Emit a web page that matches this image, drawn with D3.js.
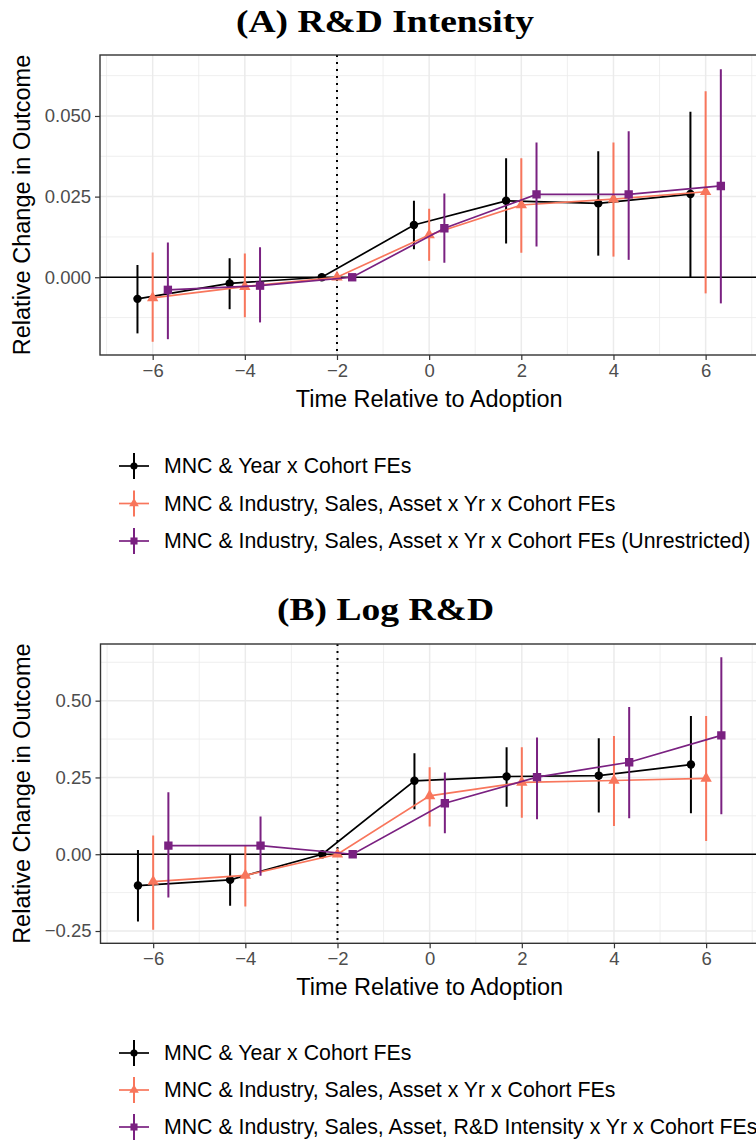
<!DOCTYPE html>
<html><head><meta charset="utf-8">
<script src="https://cdn.jsdelivr.net/npm/d3@7"></script>
<style>body{margin:0;background:#fff}</style>
</head><body><svg id="c" width="756" height="1143" xmlns="http://www.w3.org/2000/svg"></svg>
<script>
// ---------- data ----------
const periods = [-6, -4, -2, 0, 2, 4, 6];
const xTicks = [-6, -4, -2, 0, 2, 4, 6];
const xTickLabels = ["\u22126", "\u22124", "\u22122", "0", "2", "4", "6"];
const seriesColors = ["#000000", "#F8765C", "#7A2181"];
const seriesShapes = ["circle", "triangle", "square"];
const seriesDodge = [-0.33, 0, 0.33];

const titleA = "(A) R&D Intensity";
const legendA = ["MNC & Year x Cohort FEs",
  "MNC & Industry, Sales, Asset x Yr x Cohort FEs",
  "MNC & Industry, Sales, Asset x Yr x Cohort FEs (Unrestricted)"];
const yTicksA = [0, 0.025, 0.05];
const yTickLabelsA = ["0.000", "0.025", "0.050"];

const A_black_est = [-0.0067, -0.0019, 0, 0.0162, 0.0237, 0.0229, 0.0258];
const A_black_lo  = [-0.0174, -0.0099, 0, 0.0087, 0.0105, 0.0067, 0.0000];
const A_black_hi  = [0.0038, 0.0059, 0, 0.0237, 0.0369, 0.0391, 0.0513];
const A_orange_est = [-0.0064, -0.0029, 0, 0.0131, 0.0224, 0.0242, 0.0265];
const A_orange_lo  = [-0.0200, -0.0124, 0, 0.0051, 0.0076, 0.0064, -0.0050];
const A_orange_hi  = [0.0077, 0.0074, 0, 0.0212, 0.0369, 0.0418, 0.0577];
const A_purple_est = [-0.0039, -0.0026, 0, 0.0152, 0.0257, 0.0257, 0.0283];
const A_purple_lo  = [-0.0192, -0.0140, 0, 0.0045, 0.0095, 0.0054, -0.0081];
const A_purple_hi  = [0.0108, 0.0093, 0, 0.0260, 0.0418, 0.0453, 0.0645];

const titleB = "(B) Log R&D";
const legendB = ["MNC & Year x Cohort FEs",
  "MNC & Industry, Sales, Asset x Yr x Cohort FEs",
  "MNC & Industry, Sales, Asset, R&D Intensity x Yr x Cohort FEs"];
const yTicksB = [-0.25, 0, 0.25, 0.5];
const yTickLabelsB = ["\u22120.25", "0.00", "0.25", "0.50"];

const B_black_est = [-0.102, -0.0835, 0, 0.239, 0.253, 0.256, 0.292];
const B_black_lo  = [-0.219, -0.168, 0, 0.1465, 0.155, 0.1356, 0.1335];
const B_black_hi  = [0.014, -0.002, 0, 0.329, 0.348, 0.378, 0.450];
const B_orange_est = [-0.089, -0.069, 0, 0.190, 0.234, 0.240, 0.247];
const B_orange_lo  = [-0.246, -0.170, 0, 0.090, 0.119, 0.092, 0.043];
const B_orange_hi  = [0.061, 0.027, 0, 0.283, 0.348, 0.385, 0.450];
const B_purple_est = [0.028, 0.028, 0, 0.166, 0.251, 0.2995, 0.387];
const B_purple_lo  = [-0.141, -0.070, 0, 0.068, 0.114, 0.117, 0.130];
const B_purple_hi  = [0.202, 0.123, 0, 0.266, 0.380, 0.479, 0.641];

// ---------- drawing ----------
const svg = d3.select("#c");
const SANS = "'Liberation Sans', Arial, Helvetica, sans-serif";
const SERIF = "'Liberation Serif', 'Times New Roman', serif";

function symType(i) {
  return seriesShapes[i] === "circle" ? d3.symbolCircle :
    seriesShapes[i] === "triangle" ? d3.symbolTriangle : d3.symbolSquare;
}

function drawPanel(cfg) {
  const g = svg.append("g");
  const x = d3.scaleLinear().domain([-7.143, 7.143]).range([cfg.left, cfg.right]);
  const y = d3.scaleLinear().domain(cfg.yDomain).range([cfg.bottom, cfg.top]);

  // title
  g.append("text").attr("x", cfg.titleX).attr("y", cfg.titleY)
    .attr("text-anchor", "middle").attr("font-family", SERIF)
    .attr("font-size", 32).attr("font-weight", "bold").attr("fill", "#000")
    .attr("textLength", cfg.titleLen).attr("lengthAdjust", "spacingAndGlyphs")
    .text(cfg.title);

  // clip
  const clipId = "clip" + cfg.id;
  g.append("clipPath").attr("id", clipId).append("rect")
    .attr("x", cfg.left).attr("y", cfg.top)
    .attr("width", cfg.right - cfg.left).attr("height", cfg.bottom - cfg.top);
  const p = g.append("g").attr("clip-path", `url(#${clipId})`);

  // grid
  const xMinor = [-7, -5, -3, -1, 1, 3, 5, 7];
  const yt = cfg.yTicks;
  const step = yt[1] - yt[0];
  const yMinor = [];
  for (let v = yt[0] - step / 2; v <= cfg.yDomain[1]; v += step) if (v >= cfg.yDomain[0]) yMinor.push(v);
  p.selectAll(".xmin").data(xMinor).join("line")
    .attr("x1", d => x(d)).attr("x2", d => x(d)).attr("y1", cfg.top).attr("y2", cfg.bottom)
    .attr("stroke", "#ebebeb").attr("stroke-width", 0.8);
  p.selectAll(".ymin").data(yMinor).join("line")
    .attr("y1", d => y(d)).attr("y2", d => y(d)).attr("x1", cfg.left).attr("x2", cfg.right)
    .attr("stroke", "#ebebeb").attr("stroke-width", 0.8);
  p.selectAll(".xmaj").data(xTicks).join("line")
    .attr("x1", d => x(d)).attr("x2", d => x(d)).attr("y1", cfg.top).attr("y2", cfg.bottom)
    .attr("stroke", "#ebebeb").attr("stroke-width", 1.5);
  p.selectAll(".ymaj").data(yt).join("line")
    .attr("y1", d => y(d)).attr("y2", d => y(d)).attr("x1", cfg.left).attr("x2", cfg.right)
    .attr("stroke", "#ebebeb").attr("stroke-width", 1.5);

  // reference lines
  p.append("line").attr("x1", cfg.left).attr("x2", cfg.right)
    .attr("y1", y(0)).attr("y2", y(0)).attr("stroke", "#000").attr("stroke-width", 1.6);
  p.append("line").attr("x1", x(-2)).attr("x2", x(-2))
    .attr("y1", cfg.top).attr("y2", cfg.bottom).attr("stroke", "#000")
    .attr("stroke-width", 2).attr("stroke-dasharray", "2,5");

  // series
  cfg.series.forEach((s, i) => {
    const col = seriesColors[i];
    const pts = periods.map((t, k) => ({ t: t + seriesDodge[i], est: s.est[k], lo: s.lo[k], hi: s.hi[k] }));
    p.append("path").datum(pts)
      .attr("d", d3.line().x(d => x(d.t)).y(d => y(d.est)))
      .attr("fill", "none").attr("stroke", col).attr("stroke-width", 1.7);
    p.selectAll(null).data(pts).join("line")
      .attr("x1", d => x(d.t)).attr("x2", d => x(d.t))
      .attr("y1", d => y(d.lo)).attr("y2", d => y(d.hi))
      .attr("stroke", col).attr("stroke-width", 2);
    const size = seriesShapes[i] === "circle" ? 56 : seriesShapes[i] === "triangle" ? 56 : 70;
    p.selectAll(null).data(pts).join("path")
      .attr("transform", d => `translate(${x(d.t)},${y(d.est)})`)
      .attr("d", d3.symbol().type(symType(i)).size(size)).attr("fill", col);
  });

  // border
  g.append("rect").attr("x", cfg.left).attr("y", cfg.top)
    .attr("width", cfg.right - cfg.left).attr("height", cfg.bottom - cfg.top)
    .attr("fill", "none").attr("stroke", "#333333").attr("stroke-width", 1.4);

  // axes
  const xAxis = d3.axisBottom(x).tickValues(xTicks).tickSize(5).tickPadding(4)
    .tickFormat((d, k) => xTickLabels[k]);
  const xa = g.append("g").attr("transform", `translate(0,${cfg.bottom})`).call(xAxis);
  const yAxis = d3.axisLeft(y).tickValues(yt).tickSize(5).tickPadding(4)
    .tickFormat((d, k) => cfg.yTickLabels[k]);
  const ya = g.append("g").attr("transform", `translate(${cfg.left},0)`).call(yAxis);
  [xa, ya].forEach(a => {
    a.select(".domain").remove();
    a.selectAll(".tick line").attr("stroke", "#333333").attr("stroke-width", 1.2);
    a.selectAll(".tick text").attr("fill", "#4D4D4D").attr("font-size", 18.5).attr("font-family", SANS);
  });

  // axis titles
  g.append("text").attr("x", x(0)).attr("y", cfg.bottom + 52)
    .attr("text-anchor", "middle").attr("font-family", SANS).attr("font-size", 23.5)
    .attr("fill", "#000").text("Time Relative to Adoption");
  g.append("text")
    .attr("transform", `translate(30,${(cfg.top + cfg.bottom) / 2}) rotate(-90)`)
    .attr("text-anchor", "middle").attr("font-family", SANS).attr("font-size", 23.5)
    .attr("fill", "#000").text("Relative Change in Outcome");

  // legend
  cfg.legend.forEach((lab, i) => {
    const ly = cfg.legendY + i * cfg.legendGap;
    const col = seriesColors[i];
    const lg = g.append("g");
    lg.append("line").attr("x1", 119).attr("x2", 149).attr("y1", ly).attr("y2", ly)
      .attr("stroke", col).attr("stroke-width", 1.7);
    lg.append("line").attr("x1", 134).attr("x2", 134).attr("y1", ly - 13).attr("y2", ly + 13)
      .attr("stroke", col).attr("stroke-width", 2);
    lg.append("path").attr("transform", `translate(134,${ly})`)
      .attr("d", d3.symbol().type(symType(i)).size(i === 2 ? 50 : 40)).attr("fill", col);
    lg.append("text").attr("x", 164).attr("y", ly).attr("dy", "0.35em")
      .attr("font-family", SANS).attr("font-size", 21.3).attr("fill", "#000").text(lab);
  });
}

drawPanel({
  id: "A", title: titleA, titleX: 385, titleY: 32, titleLen: 298,
  left: 100, right: 758.3, top: 55, bottom: 355,
  yDomain: [-0.0241, 0.0689], yTicks: yTicksA, yTickLabels: yTickLabelsA,
  series: [
    { est: A_black_est, lo: A_black_lo, hi: A_black_hi },
    { est: A_orange_est, lo: A_orange_lo, hi: A_orange_hi },
    { est: A_purple_est, lo: A_purple_lo, hi: A_purple_hi }],
  legend: legendA, legendY: 466, legendGap: 37.5
});
drawPanel({
  id: "B", title: titleB, titleX: 385.5, titleY: 620, titleLen: 217,
  left: 100.5, right: 758.8, top: 644, bottom: 943.3,
  yDomain: [-0.290, 0.6845], yTicks: yTicksB, yTickLabels: yTickLabelsB,
  series: [
    { est: B_black_est, lo: B_black_lo, hi: B_black_hi },
    { est: B_orange_est, lo: B_orange_lo, hi: B_orange_hi },
    { est: B_purple_est, lo: B_purple_lo, hi: B_purple_hi }],
  legend: legendB, legendY: 1053, legendGap: 37
});
</script></body></html>
